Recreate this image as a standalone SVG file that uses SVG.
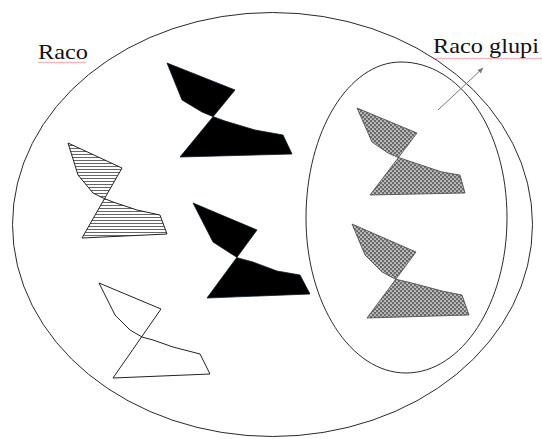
<svg xmlns="http://www.w3.org/2000/svg" width="542" height="439" viewBox="0 0 542 439">
  <style>
    .set { fill: none; stroke: #2a2a2a; stroke-width: 1; }
    .lbl { font-family: "Liberation Serif", "Times New Roman", serif; font-size: 22px; fill: #111; }
    .spell { fill: none; stroke: #e05050; stroke-width: 0.8; opacity: 0.7; }
    .solid { fill: #000; stroke: #0a1a2a; stroke-width: 0.8; stroke-linejoin: round; }
    .hatch { fill: url(#hatchPat); stroke: #222; stroke-width: 1; stroke-linejoin: round; }
    .plain { fill: none; stroke: #222; stroke-width: 1; stroke-linejoin: round; }
    .dots { fill: url(#dotPat); stroke: #444; stroke-width: 0.8; stroke-linejoin: round; }
    .conn { fill: none; stroke: #777; stroke-width: 1; }
  </style>
  <defs>
    <pattern id="hatchPat" patternUnits="userSpaceOnUse" width="6" height="3">
      <rect width="6" height="3" fill="#fff"/>
      <line x1="0" y1="1.5" x2="6" y2="1.5" stroke="#555" stroke-width="0.9"/>
    </pattern>
    <pattern id="dotPat" patternUnits="userSpaceOnUse" width="4" height="4">
      <rect width="4" height="4" fill="#6a6a6a"/>
      <circle cx="1" cy="1" r="0.85" fill="#fff"/>
      <circle cx="3" cy="3" r="0.85" fill="#fff"/>
    </pattern>
    <marker id="arr" viewBox="0 0 10 10" refX="9" refY="5" markerWidth="6" markerHeight="6" orient="auto" markerUnits="userSpaceOnUse">
      <path d="M0,1 L10,5 L0,9 Z" fill="#777"/>
    </marker>
  </defs>

  <g id="set-raco">
    <ellipse class="set" cx="272.5" cy="224.5" rx="260" ry="212"/>
    <text class="lbl" x="38" y="59" textLength="50" lengthAdjust="spacingAndGlyphs">Raco</text>
    <path class="spell" d="M38,62 l2,1 l2,-1 l2,1 l2,-1 l2,1 l2,-1 l2,1 l2,-1 l2,1 l2,-1 l2,1 l2,-1 l2,1 l2,-1 l2,1 l2,-1 l2,1 l2,-1 l2,1 l2,-1 l2,1 l2,-1 l2,1 l2,-1"/>
  </g>

  <g id="set-raco-glupi">
    <path class="set" d="M401,62 C459,62 507,128 507,218 C507,303.6 461.8,373 406,373 C350.8,373 306,303.6 306,218 C306,131.8 348.5,62 401,62 Z"/>
    <text class="lbl" x="433" y="53" textLength="106" lengthAdjust="spacingAndGlyphs">Raco glupi</text>
    <path class="spell" d="M433,58 l2,1 l2,-1 l2,1 l2,-1 l2,1 l2,-1 l2,1 l2,-1 l2,1 l2,-1 l2,1 l2,-1 l2,1 l2,-1 l2,1 l2,-1 l2,1 l2,-1 l2,1 l2,-1 l2,1 l2,-1 l2,1 l2,-1 l2,1 l2,-1 l2,1 l2,-1 l2,1 l2,-1 l2,1 l2,-1 l2,1 l2,-1 l2,1 l2,-1 l2,1 l2,-1 l2,1 l2,-1 l2,1 l2,-1 l2,1 l2,-1 l2,1 l2,-1 l2,1 l2,-1 l2,1 l2,-1 l2,1 l2,-1 l2,1 l2,-1 l2,1 l2,-1"/>
  </g>

  <g id="shape-black-1">
    <polygon class="solid" points="167,63 235,90 180,157 292,154 283,135 255,130 225,121 214,117 202,112 182,100"/>
  </g>
  <g id="shape-black-2">
    <polygon class="solid" points="193,203 257,230 207,298 310,294 300,275 277,271 253,262 238,258 230,253 213,242"/>
  </g>
  <g id="shape-hatched">
    <polygon class="hatch" points="68,143 122,168 82,238 167,234 160,215 137,210 113,202 103,198 93,193 78,175"/>
  </g>
  <g id="shape-outline">
    <polygon class="plain" points="99,283 161,309 113,378 210,374 200,354 173,347 153,340 142,337 130,330 115,315"/>
  </g>
  <g id="shape-dotted-1">
    <polygon class="dots" points="357,108 417,133 370,195 465,193 460,175 442,172 415,163 397,157 388,153 372,142"/>
  </g>
  <g id="shape-dotted-2">
    <polygon class="dots" points="352,224 416,252 367,318 469,315 462,295 442,291 412,283 395,279 382,272 365,255"/>
  </g>

  <g id="connectors">
    <line class="conn" x1="438" y1="110" x2="483" y2="68" marker-end="url(#arr)"/>
  </g>
</svg>
